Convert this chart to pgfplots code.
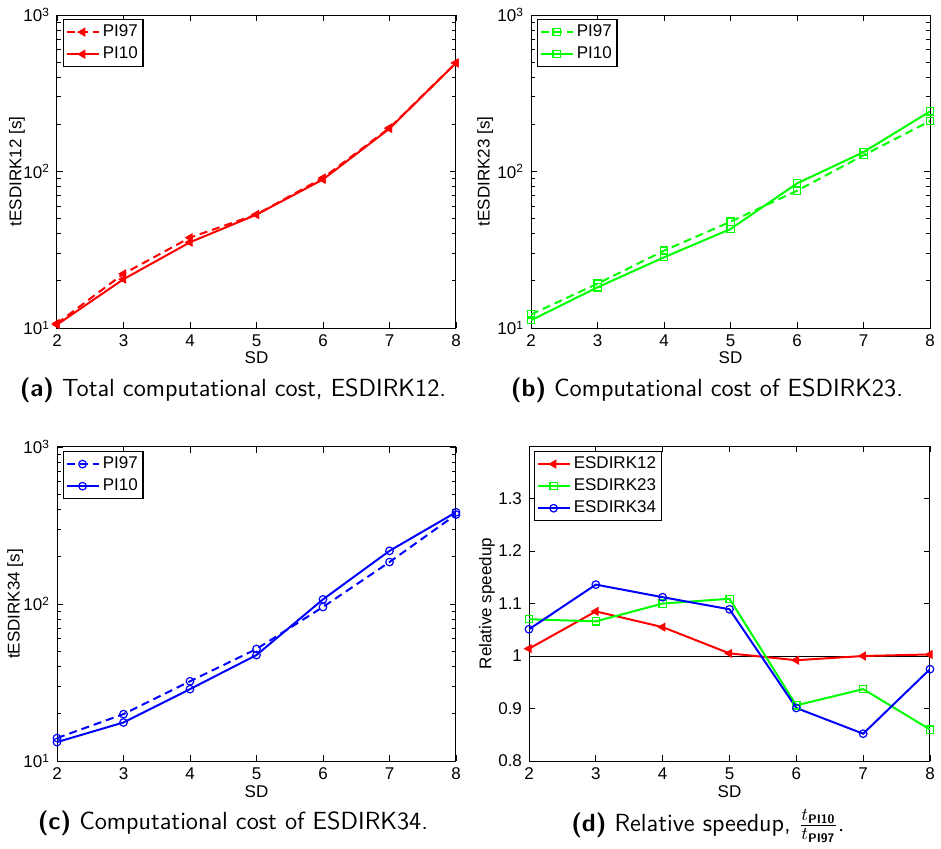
\documentclass[border=0pt]{standalone}
\usepackage{fontspec}
\setmainfont{Liberation Sans}
\usepackage{amsmath}
\usepackage{pgfplots}
\pgfplotsset{compat=1.18}

\definecolor{mred}{rgb}{1,0,0}
\definecolor{mgreen}{rgb}{0,1,0}
\definecolor{mblue}{rgb}{0,0,1}

\pgfplotsset{
  mstyle/.style={
    scale only axis,
    width=199.5pt, height=156.5pt,
    xmin=2, xmax=8, xtick={2,3,4,5,6,7,8},
    font=\fontsize{8.5}{10}\selectfont,
    tick label style={font=\fontsize{8.5}{10}\selectfont},
    /pgf/number format/assume math mode=true,
    axis line style={line width=0.5pt},
    major tick length=3pt, minor tick length=1.8pt,
    every tick/.style={black, line width=0.4pt},
    xlabel={SD},
    xlabel style={at={(axis description cs:0.5,-0.096)}, anchor=center},
    legend cell align=left,
    legend image code/.code={\draw[mark repeat=2,mark phase=2] plot coordinates {(0pt,0pt)(8pt,0pt)(16pt,0pt)};},
    legend style={draw=black, line width=0.6pt, font=\fontsize{8.5}{10}\selectfont,
      at={(axis description cs:0.015,0.987)}, anchor=north west, row sep=0.6pt,
      inner xsep=1pt, inner ysep=1pt, nodes={inner xsep=1.6pt, inner ysep=1.5pt}},
  },
  s97/.style={color=#1, line width=1pt, dash pattern=on 4pt off 2.5pt},
  s10/.style={color=#1, line width=1pt},
  tri/.style={mark=triangle*, mark size=2.2pt, mark options={solid, rotate=90, fill=#1, line width=0.5pt}},
  sq/.style={mark=square, mark size=1.8pt, mark options={solid, line width=0.6pt}},
  circ/.style={mark=o, mark size=1.9pt, mark options={solid, line width=0.6pt}},
}

\begin{document}
\begin{tikzpicture}
\useasboundingbox (0pt,0pt) rectangle (470.5pt,424pt);

% (a)
\begin{axis}[mstyle, ymode=log, ymin=10, ymax=1000, ytick={10,100,1000},
  yticklabels={10\textsuperscript{1},10\textsuperscript{2},10\textsuperscript{3}},
  at={(28.5pt,260pt)}, anchor=south west,
  ylabel={tESDIRK12 [s]},
  ylabel style={at={(axis description cs:-0.1,0.5)}, anchor=center}]
\addplot[s97=mred, tri=mred] coordinates {(2,10.7)(3,22.2)(4,37.8)(5,53.2)(6,91)(7,190)(8,494)};
\addlegendentry{PI97}
\addplot[s10=mred, tri=mred] coordinates {(2,10.5)(3,20.5)(4,35.3)(5,53)(6,89)(7,188)(8,494)};
\addlegendentry{PI10}
\end{axis}

% (b)
\begin{axis}[mstyle, ymode=log, ymin=10, ymax=1000, ytick={10,100,1000},
  yticklabels={10\textsuperscript{1},10\textsuperscript{2},10\textsuperscript{3}},
  at={(265.5pt,260pt)}, anchor=south west,
  ylabel={tESDIRK23 [s]},
  ylabel style={at={(axis description cs:-0.115,0.5)}, anchor=center}]
\addplot[s97=mgreen, sq] coordinates {(2,12.2)(3,19.2)(4,31.2)(5,47.8)(6,75.3)(7,127)(8,210)};
\addlegendentry{PI97}
\addplot[s10=mgreen, sq] coordinates {(2,11.2)(3,18.2)(4,28.3)(5,42.9)(6,83.9)(7,133)(8,242)};
\addlegendentry{PI10}
\end{axis}

% (c)
\begin{axis}[mstyle, ymode=log, ymin=10, ymax=1000, ytick={10,100,1000},
  yticklabels={10\textsuperscript{1},10\textsuperscript{2},10\textsuperscript{3}},
  at={(28.5pt,43.5pt)}, anchor=south west, height=157pt,
  ylabel={tESDIRK34 [s]},
  ylabel style={at={(axis description cs:-0.105,0.5)}, anchor=center}]
\addplot[s97=mblue, circ] coordinates {(2,14.0)(3,19.9)(4,32.2)(5,51.7)(6,95.7)(7,185)(8,371)};
\addlegendentry{PI97}
\addplot[s10=mblue, circ] coordinates {(2,13.2)(3,17.6)(4,28.7)(5,47.3)(6,107)(7,218)(8,384)};
\addlegendentry{PI10}
\end{axis}

% (d)
\begin{axis}[mstyle, at={(264.5pt,43.5pt)}, anchor=south west, width=200.5pt, height=157.5pt,
  ymin=0.8, ymax=1.4, ytick={0.8,0.9,1,1.1,1.2,1.3},
  yticklabels={0.8,0.9,1,1.1,1.2,1.3},
  ylabel={Relative speedup},
  ylabel style={at={(axis description cs:-0.105,0.5)}, anchor=center},
  legend style={at={(axis description cs:0.0125,0.984)}}]
\addplot[black, line width=0.5pt, forget plot] coordinates {(2,1)(8,1)};
\addplot[s10=mred, tri=mred] coordinates {(2,1.014)(3,1.085)(4,1.055)(5,1.005)(6,0.992)(7,1.0)(8,1.003)};
\addlegendentry{ESDIRK12}
\addplot[s10=mgreen, sq] coordinates {(2,1.070)(3,1.066)(4,1.100)(5,1.109)(6,0.906)(7,0.937)(8,0.860)};
\addlegendentry{ESDIRK23}
\addplot[s10=mblue, circ] coordinates {(2,1.051)(3,1.136)(4,1.112)(5,1.089)(6,0.901)(7,0.852)(8,0.975)};
\addlegendentry{ESDIRK34}
\end{axis}

% captions
\node[font=\sffamily\fontsize{12.4}{14}\selectfont] at (116.5pt,229pt) {\textbf{(a)} Total computational cost, ESDIRK12.};
\node[font=\sffamily\fontsize{12.4}{14}\selectfont] at (353.5pt,229pt) {\textbf{(b)} Computational cost of ESDIRK23.};
\node[font=\sffamily\fontsize{12.4}{14}\selectfont] at (116.5pt,12.5pt) {\textbf{(c)} Computational cost of ESDIRK34.};
\node[font=\sffamily\fontsize{12.4}{14}\selectfont] at (354pt,11pt) {\textbf{(d)} Relative speedup, $\frac{t_{\textsf{\textbf{PI10}}}}{t_{\textsf{\textbf{PI97}}}}$.};
\end{tikzpicture}
\end{document}
